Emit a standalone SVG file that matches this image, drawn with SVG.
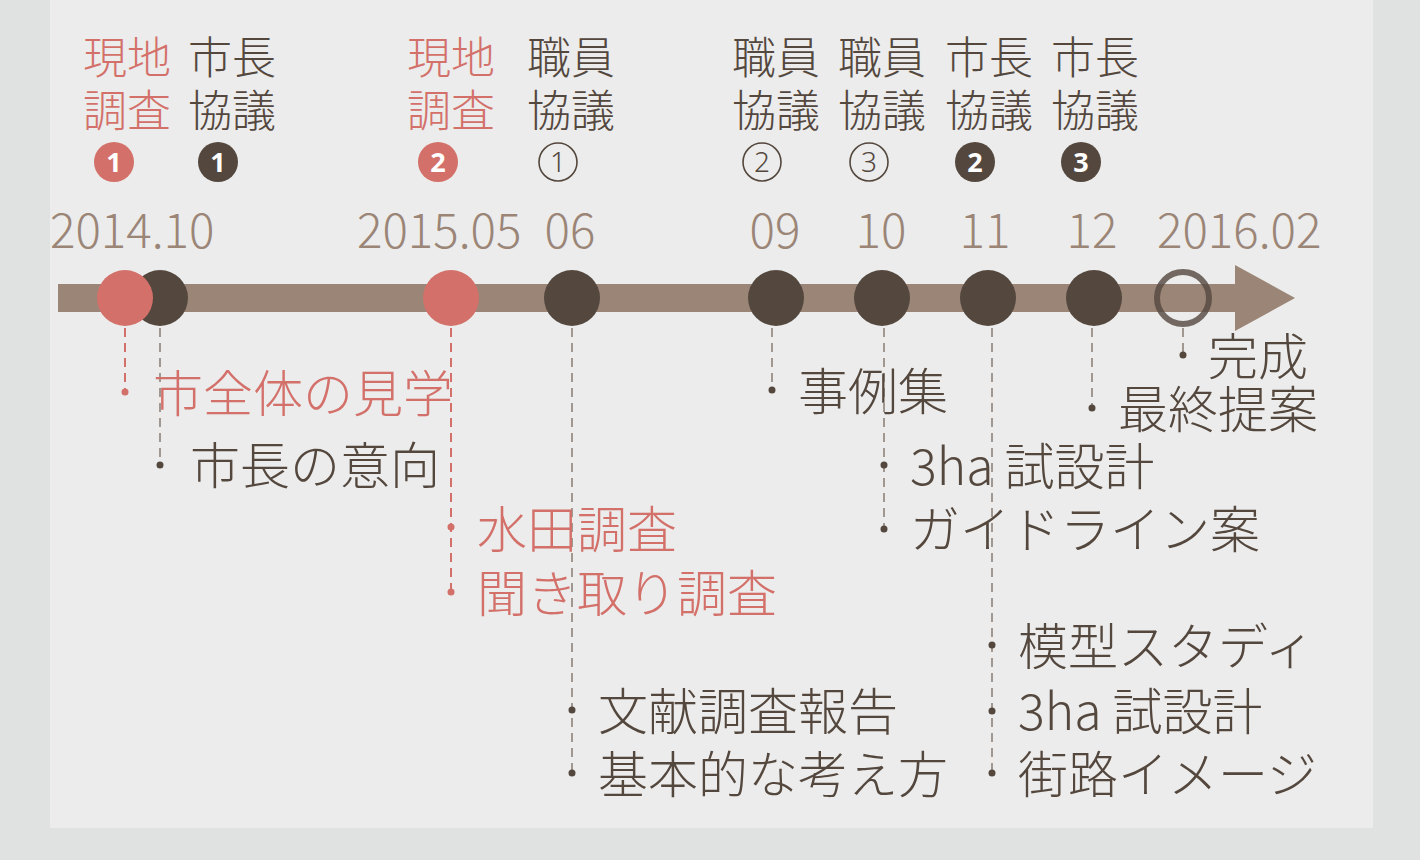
<svg xmlns="http://www.w3.org/2000/svg" width="1420" height="860" viewBox="0 0 1420 860">
<style>
text{font-family:"Noto Sans CJK JP","Noto Sans",sans-serif;font-weight:300}
.t{font-size:44px}
.l{font-size:50px}
.d{font-size:47.5px;fill:#9b8577}
.pk{fill:#d4706a}
.dk{fill:#54473e}
.bn{font-size:27px;font-weight:700;fill:#fff;text-anchor:middle;font-family:"Open Sans","Noto Sans",sans-serif}
.on{font-size:28px;fill:#54473e;text-anchor:middle;font-family:"Noto Sans","Open Sans",sans-serif;font-weight:300}
.oc{fill:none;stroke:#54473e;stroke-width:1.6}
.dp{stroke:#d4706a;stroke-width:2;stroke-dasharray:9 6;fill:none}
.dg{stroke:#a09890;stroke-width:2;stroke-dasharray:9 6;fill:none}
.pt{fill:#54473e}
.pp{fill:#d4706a}
</style>
<rect width="1420" height="860" fill="#e0e2e1"/>
<rect x="50" y="0" width="1323" height="828" fill="#ebeceb"/>

<g id="connectors">
<line class="dp" x1="125" y1="328" x2="125" y2="392"/>
<line class="dg" x1="160" y1="328" x2="160" y2="465"/>
<line class="dp" x1="451" y1="328" x2="451" y2="592"/>
<line class="dg" x1="572" y1="328" x2="572" y2="773"/>
<line class="dg" x1="772" y1="328" x2="772" y2="390"/>
<line class="dg" x1="884" y1="328" x2="884" y2="529"/>
<line class="dg" x1="992" y1="328" x2="992" y2="773"/>
<line class="dg" x1="1092" y1="328" x2="1092" y2="408"/>
<line class="dg" x1="1183" y1="328" x2="1183" y2="355"/>
</g>

<g id="timeline">
<rect x="58" y="284" width="1182" height="28" fill="#9b8577"/>
<polygon points="1235,265 1295,298 1235,331" fill="#9b8577"/>
</g>

<g id="n-2014-10">
<text class="d" x="50" y="248">2014.10</text>
<circle cx="160" cy="298" r="28" fill="#54473e"/>
<circle cx="125" cy="298" r="28" fill="#d4706a"/>
<text class="t pk" x="83" y="74">現地</text>
<text class="t pk" x="83" y="127">調査</text>
<circle cx="114" cy="162" r="20" fill="#d4706a"/><text class="bn" x="114" y="171.5">1</text>
<text class="t dk" x="188" y="74">市長</text>
<text class="t dk" x="188" y="127">協議</text>
<circle cx="218" cy="162" r="20" fill="#54473e"/><text class="bn" x="218" y="171.5">1</text>
<circle class="pp" cx="125" cy="392" r="3.5"/>
<text class="l pk" x="153" y="412">市全体の見学</text>
<circle class="pt" cx="160" cy="465" r="3.5"/>
<text class="l dk" x="190" y="484">市長の意向</text>
</g>

<g id="n-2015-05">
<text class="d" x="357" y="248">2015.05</text>
<circle cx="451" cy="298" r="28" fill="#d4706a"/>
<text class="t pk" x="407" y="74">現地</text>
<text class="t pk" x="407" y="127">調査</text>
<circle cx="438" cy="162" r="20" fill="#d4706a"/><text class="bn" x="438" y="171.5">2</text>
<circle class="pp" cx="451" cy="527" r="3.5"/>
<text class="l pk" x="477" y="548">水田調査</text>
<circle class="pp" cx="451" cy="592" r="3.5"/>
<text class="l pk" x="477" y="612">聞き取り調査</text>
</g>

<g id="n-06">
<text class="d" x="570" y="248" text-anchor="middle">06</text>
<circle cx="572" cy="298" r="28" fill="#54473e"/>
<text class="t dk" x="527" y="74">職員</text>
<text class="t dk" x="527" y="127">協議</text>
<circle class="oc" cx="558" cy="162" r="19"/><text class="on" x="558" y="172">1</text>
<circle class="pt" cx="572" cy="710" r="3.5"/>
<text class="l dk" x="598" y="730">文献調査報告</text>
<circle class="pt" cx="572" cy="773" r="3.5"/>
<text class="l dk" x="598" y="793">基本的な考え方</text>
</g>

<g id="n-09">
<text class="d" x="775" y="248" text-anchor="middle">09</text>
<circle cx="776" cy="298" r="28" fill="#54473e"/>
<text class="t dk" x="732" y="74">職員</text>
<text class="t dk" x="732" y="127">協議</text>
<circle class="oc" cx="762" cy="162" r="19"/><text class="on" x="762" y="172">2</text>
<circle class="pt" cx="772" cy="390" r="3.5"/>
<text class="l dk" x="798" y="410">事例集</text>
</g>

<g id="n-10">
<text class="d" x="881" y="248" text-anchor="middle">10</text>
<circle cx="882" cy="298" r="28" fill="#54473e"/>
<text class="t dk" x="838" y="74">職員</text>
<text class="t dk" x="838" y="127">協議</text>
<circle class="oc" cx="869" cy="162" r="19"/><text class="on" x="869" y="172">3</text>
<circle class="pt" cx="884" cy="465" r="3.5"/>
<text class="l dk" x="910" y="485">3ha 試設計</text>
<circle class="pt" cx="884" cy="529" r="3.5"/>
<text class="l dk" x="910" y="548">ガイドライン案</text>
</g>

<g id="n-11">
<text class="d" x="985" y="248" text-anchor="middle">11</text>
<circle cx="988" cy="298" r="28" fill="#54473e"/>
<text class="t dk" x="945" y="74">市長</text>
<text class="t dk" x="945" y="127">協議</text>
<circle cx="975" cy="162" r="20" fill="#54473e"/><text class="bn" x="975" y="171.5">2</text>
<circle class="pt" cx="992" cy="645" r="3.5"/>
<text class="l dk" x="1018" y="665">模型スタディ</text>
<circle class="pt" cx="992" cy="711" r="3.5"/>
<text class="l dk" x="1018" y="730">3ha 試設計</text>
<circle class="pt" cx="992" cy="773" r="3.5"/>
<text class="l dk" x="1018" y="793">街路イメージ</text>
</g>

<g id="n-12">
<text class="d" x="1092" y="248" text-anchor="middle">12</text>
<circle cx="1094" cy="298" r="28" fill="#54473e"/>
<text class="t dk" x="1051" y="74">市長</text>
<text class="t dk" x="1051" y="127">協議</text>
<circle cx="1081" cy="162" r="20" fill="#54473e"/><text class="bn" x="1081" y="171.5">3</text>
<circle class="pt" cx="1092" cy="408" r="3.5"/>
<text class="l dk" x="1118" y="428">最終提案</text>
</g>

<g id="n-2016-02">
<text class="d" x="1157" y="248">2016.02</text>
<circle cx="1183" cy="298" r="26" fill="none" stroke="#54473e" stroke-opacity="0.8" stroke-width="6"/>
<circle class="pt" cx="1183" cy="355" r="3.5"/>
<text class="l dk" x="1208" y="375">完成</text>
</g>
</svg>
